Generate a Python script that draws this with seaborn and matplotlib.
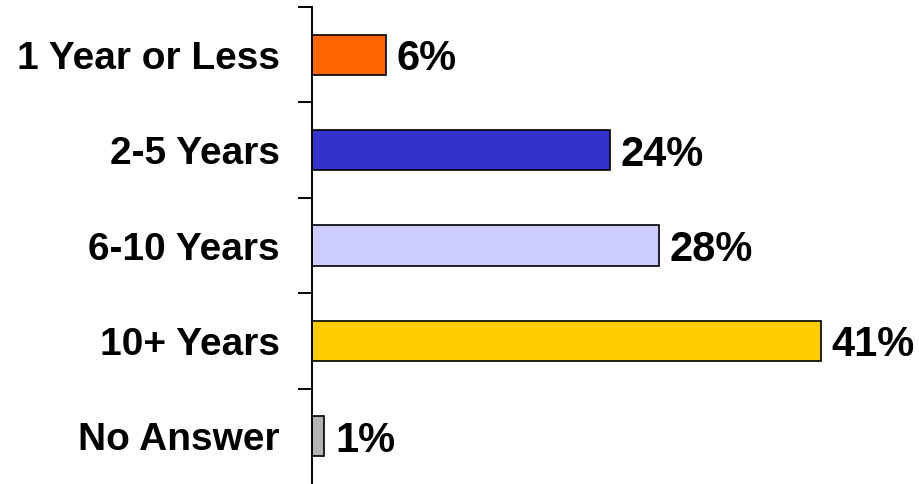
import numpy as np
import pandas as pd
import seaborn as sns
import matplotlib.pyplot as plt

# chart data
categories = ['1 Year or Less', '2-5 Years', '6-10 Years', '10+ Years', 'No Answer']
shares = [6, 24, 28, 41, 1]
bar_colors = ['#FF6600', '#3333CC', '#CCCCFF', '#FFCC00', '#B3B3B3']

df = pd.DataFrame({'tenure': categories, 'share': shares})

sns.set_style('white')
plt.rcParams['font.family'] = ['Liberation Sans', 'DejaVu Sans']
plt.rcParams['text.color'] = 'black'
plt.rcParams['ytick.color'] = 'black'
plt.rcParams['ytick.labelcolor'] = 'black'

fig = plt.figure(figsize=(9.2, 4.84), dpi=100)
ax = fig.add_axes([312 / 920, 0, 1 - 312 / 920, 1 - 7 / 484])

sns.barplot(data=df, x='share', y='tenure', hue='tenure', palette=bar_colors,
            order=categories, orient='h', width=0.42, edgecolor='black',
            linewidth=1.2, saturation=1, legend=False, ax=ax)

ax.set_xlim(0, 49)
ax.set_ylim(4.5, -0.5)

# value labels at the bar ends
for i, v in enumerate(shares):
    ax.text(v + 0.85, i, f'{v}%', va='center_baseline', ha='left',
            fontsize=30, fontweight='bold', color='black')

# category boundary ticks, labels on minor ticks at bar centres
ax.set_yticks(np.arange(-0.5, 4.5, 1.0))
ax.set_yticklabels([])
ax.tick_params(axis='y', which='major', length=10, width=1.4, direction='out',
               left=True, color='black')
ax.set_yticks(range(len(categories)), minor=True)
ax.set_yticklabels(categories, minor=True, fontsize=28, fontweight='bold',
                   va='center_baseline')
ax.tick_params(axis='y', which='minor', length=0, pad=23)

ax.set_xticks([])
ax.set_xlabel('')
ax.set_ylabel('')
for side in ['top', 'right', 'bottom']:
    ax.spines[side].set_visible(False)
ax.spines['left'].set_linewidth(1.4)
ax.spines['left'].set_color('black')

fig.savefig('out.png', dpi=100)
